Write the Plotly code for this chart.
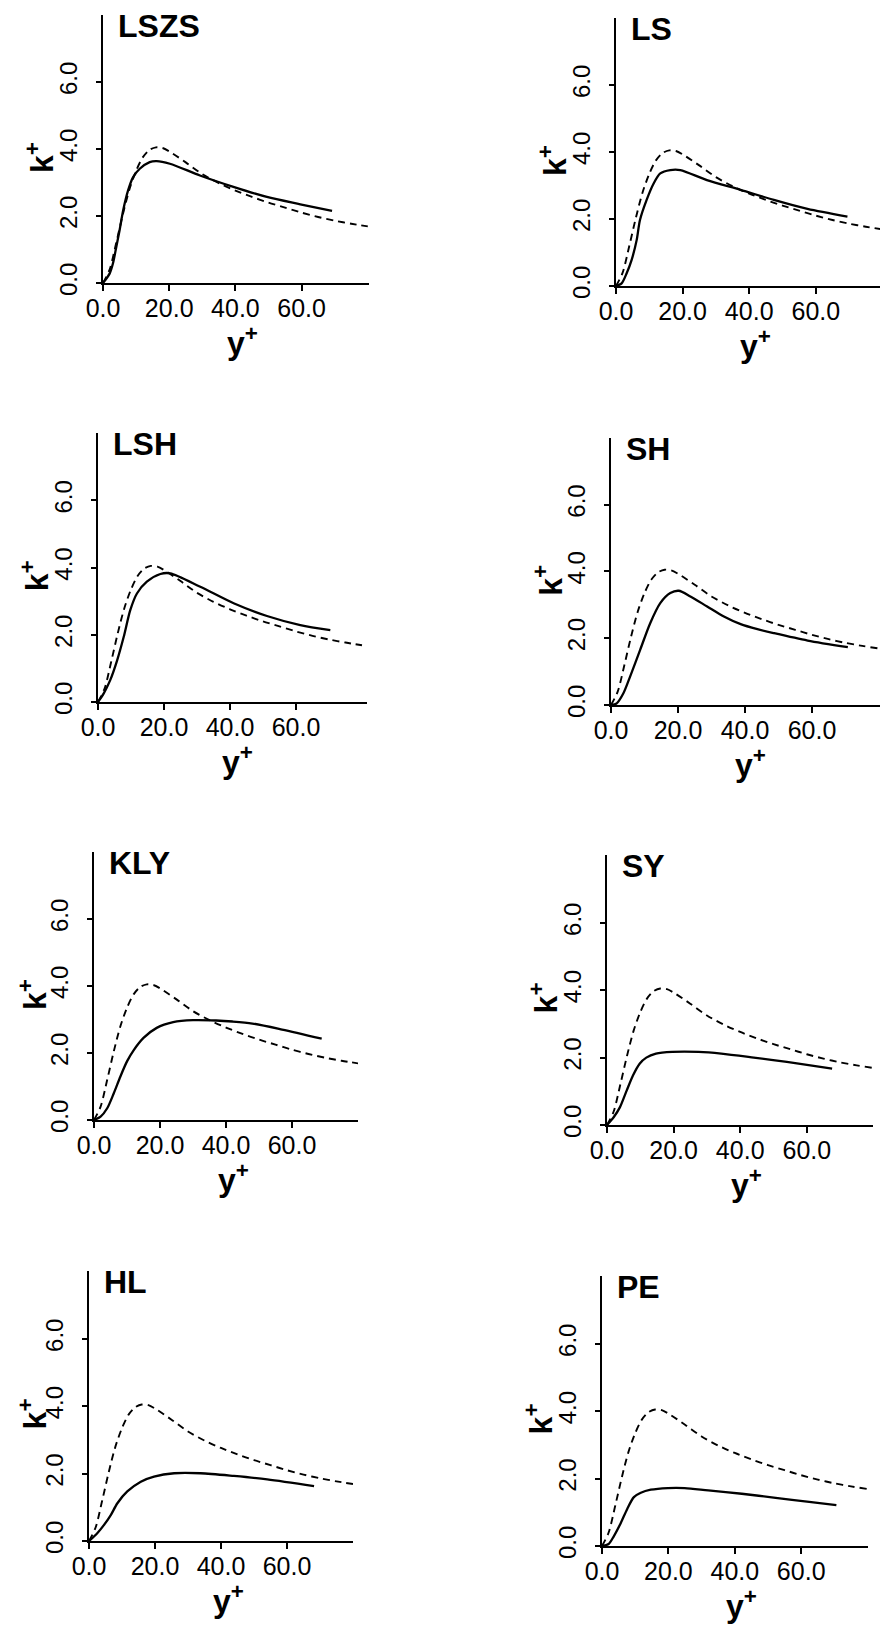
import plotly.graph_objects as go

# ---------------- data ----------------
model_names = ["LSZS", "LS", "LSH", "SH", "KLY", "SY", "HL", "PE"]

# DNS reference profile (dashed), same in every panel
dns_yplus = [0, 2, 4, 6, 8, 10, 12, 14, 16, 18, 20, 25, 30, 35, 40, 45, 50, 55, 60, 65, 70, 75, 80]
dns_kplus = [0, 0.4, 1.2, 2.05, 2.8, 3.35, 3.75, 3.97, 4.05, 4.03, 3.93, 3.6, 3.25, 2.98, 2.76, 2.57, 2.4, 2.25, 2.1, 1.97, 1.86, 1.77, 1.69]

# model predictions (solid)
lszs_yplus = [0, 2, 3, 4, 5, 6.1, 7.6, 9.1, 11.1, 14.1, 16.2, 20.2, 29.3, 39.4, 49.5, 59.6, 69.2]
lszs_kplus = [0, 0.28, 0.58, 1.07, 1.57, 2.17, 2.77, 3.16, 3.41, 3.61, 3.64, 3.56, 3.21, 2.87, 2.57, 2.35, 2.15]

ls_yplus = [0, 1.7, 3.2, 4.7, 6.2, 7.2, 9.2, 11.3, 13.3, 16.3, 19.3, 27.3, 37.4, 47.4, 57.5, 69.5]
ls_kplus = [0, 0.08, 0.38, 0.78, 1.37, 1.97, 2.57, 3.06, 3.36, 3.46, 3.46, 3.16, 2.87, 2.57, 2.3, 2.07]

lsh_yplus = [0, 1.7, 3.7, 5.8, 7.8, 9.8, 11.8, 14.8, 18.9, 21.9, 31, 41.1, 51.2, 61.3, 70.4]
lsh_kplus = [0, 0.25, 0.65, 1.24, 1.94, 2.74, 3.23, 3.58, 3.81, 3.83, 3.43, 2.94, 2.56, 2.29, 2.14]

sh_yplus = [0, 1.7, 3.7, 5.7, 8.7, 11.7, 14.7, 17.7, 20.2, 23.7, 28.7, 33.7, 38.7, 43.7, 48.7, 58.7, 70.7]
sh_kplus = [0, 0.05, 0.35, 0.85, 1.65, 2.45, 3.05, 3.35, 3.42, 3.25, 2.95, 2.65, 2.42, 2.27, 2.15, 1.93, 1.73]

kly_yplus = [0, 2, 4, 6, 8, 10, 12, 15, 19, 24, 30, 37, 42, 48, 57, 69]
kly_kplus = [0, 0.1, 0.35, 0.8, 1.3, 1.75, 2.08, 2.45, 2.75, 2.92, 2.98, 2.97, 2.94, 2.88, 2.7, 2.43]

sy_yplus = [0, 2, 3.9, 5.9, 7.8, 9.8, 11.8, 14.7, 19.6, 27.5, 34.3, 44.1, 54, 67.6]
sy_kplus = [0, 0.23, 0.53, 1.02, 1.47, 1.82, 2.0, 2.12, 2.17, 2.17, 2.12, 2.0, 1.87, 1.67]

hl_yplus = [0, 2.5, 4.5, 6.6, 8.6, 11.6, 15.7, 19.7, 25.8, 33.8, 43.9, 54, 68.2]
hl_kplus = [0, 0.23, 0.47, 0.77, 1.12, 1.47, 1.76, 1.91, 2.01, 2.01, 1.93, 1.83, 1.63]

pe_yplus = [0, 2, 3.5, 5.6, 7.6, 9.6, 11.7, 14.7, 19.8, 24.9, 32, 42.1, 52.3, 62.4, 70.6]
pe_kplus = [0, 0.06, 0.28, 0.67, 1.1, 1.45, 1.58, 1.67, 1.72, 1.72, 1.65, 1.55, 1.43, 1.31, 1.21]

model_yplus = [lszs_yplus, ls_yplus, lsh_yplus, sh_yplus, kly_yplus, sy_yplus, hl_yplus, pe_yplus]
model_kplus = [lszs_kplus, ls_kplus, lsh_kplus, sh_kplus, kly_kplus, sy_kplus, hl_kplus, pe_kplus]

x_tick_vals = [0, 20, 40, 60]
x_tick_text = ["0.0", "20.0", "40.0", "60.0"]
y_tick_vals = [0, 2, 4, 6]
y_tick_text = ["0.0", "2.0", "4.0", "6.0"]

# ---------------- layout geometry (page pixels) ----------------
PAGE_W, PAGE_H = 888, 1638
OFF = 8                      # default body margin of the html page
W, H = PAGE_W - OFF, PAGE_H - OFF
# (x of y+=0, px per x unit, x max, y of k+=0, px per y unit) in page pixels
panels = [
    (103, 3.31, 80.3, 283, 33.5),
    (616, 3.33, 80.5, 286, 33.5),
    (98, 3.30, 81.5, 702, 33.6),
    (611, 3.35, 82.0, 705, 33.4),
    (94, 3.30, 80.0, 1120, 33.5),
    (607, 3.33, 80.0, 1125, 33.7),
    (89, 3.30, 80.0, 1541, 33.7),
    (602, 3.32, 80.0, 1546, 33.7),
]
YMAX = 8.0

FONT = "Liberation Sans, Arial, Helvetica, sans-serif"


def px(x):
    return (x - OFF) / W


def py(y):
    return 1 - (y - OFF) / H


fig = go.Figure()
annotations = []
layout_axes = {}

for i, (name, xs, ks, geo) in enumerate(zip(model_names, model_yplus, model_kplus, panels)):
    x0, sx, xmax, y0, sy = geo
    n = "" if i == 0 else str(i + 1)
    xa, ya = "x" + n, "y" + n
    top = y0 - YMAX * sy
    dom_x = [px(x0), min(1.0, px(x0 + xmax * sx))]
    dom_y = [py(y0), py(top)]

    fig.add_trace(go.Scatter(
        x=dns_yplus, y=dns_kplus, mode="lines", xaxis=xa, yaxis=ya,
        line=dict(color="black", width=1.9, dash="7px,5px", shape="spline", smoothing=0.8),
        showlegend=False, hoverinfo="skip"))
    fig.add_trace(go.Scatter(
        x=xs, y=ks, mode="lines", xaxis=xa, yaxis=ya,
        line=dict(color="black", width=2.3, shape="spline", smoothing=0.8),
        showlegend=False, hoverinfo="skip"))

    layout_axes["xaxis" + n] = dict(
        domain=dom_x, range=[0, xmax], anchor=ya, automargin=False,
        showgrid=False, zeroline=False, showline=True, linecolor="black", linewidth=1.6,
        ticks="outside", ticklen=6, tickwidth=1.5, tickcolor="black",
        tickvals=x_tick_vals, ticktext=x_tick_text, ticklabelstandoff=-4,
        tickfont=dict(family=FONT, size=25, color="black"))
    layout_axes["yaxis" + n] = dict(
        domain=dom_y, range=[0, YMAX], anchor=xa, automargin=False,
        showgrid=False, zeroline=False, showline=True, linecolor="black", linewidth=1.6,
        ticks="outside", ticklen=5, tickwidth=1.5, tickcolor="black",
        tickvals=y_tick_vals, ticktext=y_tick_text, tickangle=-90, ticklabelstandoff=10,
        tickfont=dict(family=FONT, size=24, color="black"))

    # panel title
    annotations.append(dict(
        text="<b>%s</b>" % name, xref="paper", yref="paper",
        x=px(x0 + 13), y=py(top + 11), xanchor="left", yanchor="middle",
        showarrow=False, font=dict(family=FONT, size=32, color="black")))
    # y-axis title k+
    annotations.append(dict(
        text="<b>k<sup>+</sup></b>", xref="paper", yref="paper",
        x=px(max(x0 - 63, OFF + 25)), y=py(top + 143), xanchor="center", yanchor="middle",
        textangle=-90, showarrow=False, font=dict(family=FONT, size=32, color="black")))
    # x-axis title y+
    annotations.append(dict(
        text="<b>y<sup>+</sup></b>", xref="paper", yref="paper",
        x=px(x0 + 139), y=py(y0 + 58), xanchor="center", yanchor="middle",
        showarrow=False, font=dict(family=FONT, size=32, color="black")))

fig.update_layout(
    width=W, height=H, margin=dict(l=0, r=0, t=0, b=0),
    paper_bgcolor="white", plot_bgcolor="white",
    annotations=annotations, **layout_axes)

fig.write_html("out.html")
